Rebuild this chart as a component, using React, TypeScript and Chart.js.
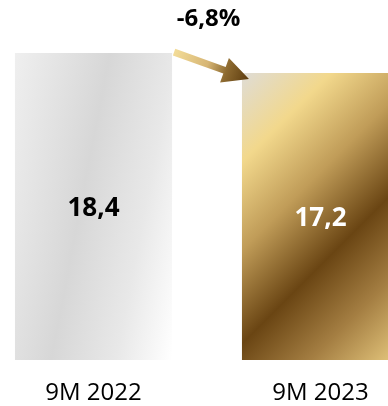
import React, { useEffect, useRef } from "react";
import { Chart, registerables } from "chart.js";

Chart.register(...registerables);

// Revenue for the first nine months, two years side by side
const categories = ["9M 2022", "9M 2023"];
const revenue = [18.4, 17.2];
const changeLabel = "-6,8%";
const valueLabelColors = ["#000000", "#ffffff"];

const BAR_FRACTION = 0.692;
const X_AXIS_HEIGHT = 46;

function barRect(chart: any, index: number, value: number) {
  const xs = chart.scales.x;
  const ys = chart.scales.y;
  const cx = xs.getPixelForValue(index);
  const w = (xs.width / categories.length) * BAR_FRACTION;
  const top = ys.getPixelForValue(value);
  const bottom = ys.getPixelForValue(0);
  return { left: cx - w / 2, right: cx + w / 2, top, bottom, w, h: bottom - top };
}

function silverFill(ctx: CanvasRenderingContext2D, r: any) {
  const dx = 0.982, dy = 0.188;
  const L = dx * r.w + dy * r.h;
  const g = ctx.createLinearGradient(r.left, r.top, r.left + dx * L, r.top + dy * L);
  g.addColorStop(0, "#efefef");
  g.addColorStop(0.44, "#d7d7d7");
  g.addColorStop(0.74, "#e8e8e8");
  g.addColorStop(1, "#ffffff");
  return g;
}

function goldFill(ctx: CanvasRenderingContext2D, r: any) {
  const s = (r.w + r.h) / 2;
  const g = ctx.createLinearGradient(r.left, r.top, r.left + s, r.top + s);
  g.addColorStop(0, "#dfdcd6");
  g.addColorStop(0.2, "#f2d88c");
  g.addColorStop(0.4, "#c09c58");
  g.addColorStop(0.61, "#6a4513");
  g.addColorStop(0.8, "#a47e42");
  g.addColorStop(1, "#e6c87e");
  return g;
}

const valueLabels = {
  id: "valueLabels",
  afterDatasetsDraw(chart: any) {
    const ctx = chart.ctx;
    const meta = chart.getDatasetMeta(0);
    ctx.save();
    ctx.font = "bold 26px 'Open Sans'";
    ctx.textAlign = "center";
    ctx.textBaseline = "middle";
    meta.data.forEach((bar: any, i: number) => {
      const v = revenue[i];
      ctx.fillStyle = valueLabelColors[i];
      ctx.fillText(v.toFixed(1).replace(".", ","), bar.x, (bar.y + bar.base) / 2 + 2.5);
    });
    ctx.restore();
  },
};

const changeArrow = {
  id: "changeArrow",
  afterDraw(chart: any) {
    const ctx = chart.ctx;
    const meta = chart.getDatasetMeta(0);
    const a = meta.data[0];
    const b = meta.data[1];
    const x0 = a.x + a.width / 2 + 2;
    const y0 = a.y - 1;
    const x1 = b.x - b.width / 2 + 7;
    const y1 = b.y + 6;
    const ang = Math.atan2(y1 - y0, x1 - x0);
    const len = Math.hypot(x1 - x0, y1 - y0);
    const headLen = 26;
    const headHalf = 13;
    const shaftHalf = 3.5;

    ctx.save();
    ctx.translate(x0, y0);
    ctx.rotate(ang);
    const g = ctx.createLinearGradient(0, 0, len, 0);
    g.addColorStop(0, "#f3dc98");
    g.addColorStop(0.45, "#d6b574");
    g.addColorStop(0.7, "#8d6a30");
    g.addColorStop(1, "#5c3b0e");
    ctx.fillStyle = g;
    ctx.beginPath();
    ctx.moveTo(0, -shaftHalf);
    ctx.lineTo(len - headLen, -shaftHalf);
    ctx.lineTo(len - headLen, -headHalf);
    ctx.lineTo(len, 0);
    ctx.lineTo(len - headLen, headHalf);
    ctx.lineTo(len - headLen, shaftHalf);
    ctx.lineTo(0, shaftHalf);
    ctx.closePath();
    ctx.fill();
    ctx.restore();

    ctx.save();
    ctx.font = "bold 24px 'Open Sans'";
    ctx.fillStyle = "#000000";
    ctx.textAlign = "center";
    ctx.textBaseline = "middle";
    ctx.fillText(changeLabel, (x0 + x1) / 2 - 3, a.y - 34);
    ctx.restore();
  },
};

export default function App() {
  const canvasRef = useRef<HTMLCanvasElement | null>(null);

  useEffect(() => {
    const canvas = canvasRef.current;
    if (!canvas) return;
    const chart = new Chart(canvas, {
      type: "bar",
      data: {
        labels: categories,
        datasets: [
          {
            data: revenue,
            backgroundColor: (c: any) => {
              const ch = c.chart;
              if (c.type !== "data" || !ch.chartArea || !ch.scales.x) return "#cccccc";
              const r = barRect(ch, c.dataIndex, c.raw);
              return c.dataIndex === 0 ? silverFill(ch.ctx, r) : goldFill(ch.ctx, r);
            },
            borderWidth: 0,
            categoryPercentage: 1,
            barPercentage: BAR_FRACTION,
          },
        ],
      },
      options: {
        responsive: false,
        animation: false,
        devicePixelRatio: 1,
        layout: { padding: { top: 26.4, bottom: 0, left: 0, right: 0 } },
        plugins: { legend: { display: false }, tooltip: { enabled: false } },
        scales: {
          x: {
            grid: { display: false, drawTicks: false },
            border: { display: false },
            ticks: {
              padding: 19,
              color: "#000000",
              font: { family: "'Open Sans'", size: 24 },
            },
            afterFit: (scale: any) => {
              scale.height = X_AXIS_HEIGHT;
            },
          },
          y: { display: false, min: 0, max: 20 },
        },
      },
      plugins: [valueLabels, changeArrow],
    });
    return () => chart.destroy();
  }, []);

  return (
    <div
      style={{
        position: "fixed",
        left: 0,
        top: 0,
        width: 388,
        height: 406,
        overflow: "hidden",
        background: "#ffffff",
      }}
    >
      <canvas
        ref={canvasRef}
        width={454}
        height={406}
        style={{ position: "absolute", left: -20, top: 0, width: 454, height: 406 }}
      />
    </div>
  );
}
